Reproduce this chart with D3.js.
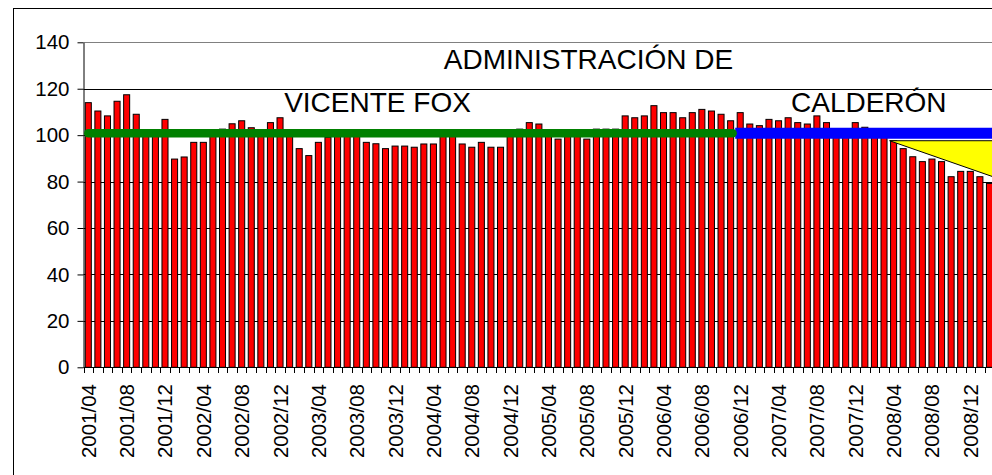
<!DOCTYPE html>
<html>
<head>
<meta charset="utf-8">
<script src="https://cdn.jsdelivr.net/npm/d3@7/dist/d3.min.js"></script>
<style>
  html, body { margin: 0; padding: 0; background: #fff; }
  svg { display: block; }
  text { font-family: "Liberation Sans", Arial, sans-serif; fill: #000; }
</style>
</head>
<body>
<svg id="chart" width="992" height="475"></svg>
<script>
// ---- data ----
const startYear = 2001, startMonth = 4, monthCount = 95;
const categories = [];
for (let i = 0; i < monthCount; i++) {
  const m = (startMonth - 1 + i) % 12 + 1;
  const yv = startYear + Math.floor((startMonth - 1 + i) / 12);
  categories.push(yv + "/" + String(m).padStart(2, "0"));
}
const values = [
  114.0, 110.4, 108.3, 114.6, 117.4, 109.0, 100.5, 100.5, 106.8, 89.7,
  90.6, 96.9, 96.9, 100.5, 102.6, 104.9, 106.2, 103.2, 101.0, 105.4,
  107.5, 101.0, 94.2, 91.2, 96.9, 99.1, 101.0, 101.0, 100.0, 96.9,
  96.3, 94.2, 95.3, 95.3, 94.8, 96.2, 96.2, 100.5, 100.5, 96.2,
  94.8, 96.9, 94.8, 94.8, 100.5, 102.6, 105.4, 104.8, 100.0, 98.3,
  100.5, 100.5, 98.3, 102.6, 102.6, 102.6, 108.3, 107.5, 108.3, 112.7,
  109.7, 109.7, 107.5, 109.7, 111.1, 110.4, 109.0, 106.2, 109.7, 104.8,
  104.1, 106.8, 106.2, 107.5, 105.4, 104.8, 108.3, 105.4, 101.0, 101.0,
  105.4, 103.4, 101.0, 100.0, 97.6, 94.2, 90.7, 88.6, 89.7, 88.6,
  82.1, 84.4, 84.4, 82.1, 79.2
];
const tickLabels = [
  "2001/04","2001/08","2001/12","2002/04","2002/08","2002/12","2003/04","2003/08",
  "2003/12","2004/04","2004/08","2004/12","2005/04","2005/08","2005/12","2006/04",
  "2006/08","2006/12","2007/04","2007/08","2007/12","2008/04","2008/08","2008/12"
];
const yTicks = [0, 20, 40, 60, 80, 100, 120, 140];
const foxAverage = 100.8;
const calderonAverage = 100.8;
const foxFirst = "2001/04", foxLast = "2006/11", calderonFirst = "2006/12";
const trendStartCat = "2008/04", trendStartValue = 97.6, trendEndValue = 81.9;
const titleLines = ["ADMINISTRACIÓN DE", "VICENTE FOX", "CALDERÓN"];

// ---- layout ----
const svg = d3.select("#chart");
const plotLeft = 83.5, step = 9.587;
const plotRight = plotLeft + step * categories.length;
const plotTop = 42.3, plotBottom = 367.3;

const x = d3.scaleBand().domain(categories).range([plotLeft, plotRight])
  .paddingInner(0.37).paddingOuter(0.185);
const y = d3.scaleLinear().domain([0, 140]).range([plotBottom, plotTop]);
const half = (x.step() - x.bandwidth()) / 2;
const cx = c => x(c) + x.bandwidth() / 2;

// outer border
svg.append("rect").attr("x", 13.5).attr("y", 8.5).attr("width", 1000).attr("height", 470)
  .attr("fill", "none").attr("stroke", "#000").attr("stroke-width", 1);

// gridlines
svg.append("g").selectAll("line").data(yTicks.filter(t => t > 0)).join("line")
  .attr("x1", plotLeft).attr("x2", plotRight + 10)
  .attr("y1", d => Math.round(y(d)) + 0.5).attr("y2", d => Math.round(y(d)) + 0.5)
  .attr("stroke", d => d === 140 ? "#808080" : "#000").attr("stroke-width", 1);

// bars
svg.append("g").selectAll("rect").data(values).join("rect")
  .attr("x", (d, i) => x(categories[i]))
  .attr("width", x.bandwidth())
  .attr("y", d => y(d))
  .attr("height", d => y(0) - y(d))
  .attr("fill", "#FF0000").attr("stroke", "#000").attr("stroke-width", 1);

// y axis
const yAxis = d3.axisLeft(y).tickValues(yTicks).tickSize(6).tickSizeOuter(0).tickPadding(8);
const gy = svg.append("g").attr("transform", `translate(${plotLeft},0)`).call(yAxis);
gy.select(".domain").attr("stroke", "#000");
gy.selectAll(".tick line").attr("stroke", "#000");
gy.selectAll(".tick text").attr("font-size", 20.5).attr("font-family", "Liberation Sans, Arial, sans-serif").attr("fill", "#000");

// x axis line
svg.append("line").attr("x1", plotLeft).attr("x2", plotRight + 10)
  .attr("y1", Math.round(y(0)) + 0.5).attr("y2", Math.round(y(0)) + 0.5)
  .attr("stroke", "#000");
// x ticks at category boundaries
const boundaries = categories.map(c => x(c) - half).concat([plotRight]);
svg.append("g").selectAll("line").data(boundaries).join("line")
  .attr("x1", d => Math.round(d) + 0.5).attr("x2", d => Math.round(d) + 0.5)
  .attr("y1", Math.round(y(0)) + 0.5).attr("y2", Math.round(y(0)) + 6)
  .attr("stroke", "#000");
// x labels
svg.append("g").selectAll("text").data(tickLabels).join("text")
  .attr("transform", d => `translate(${cx(d) + 7.5},384) rotate(-90)`)
  .attr("text-anchor", "end").attr("font-size", 20.5).text(d => d);

// trend triangle
const tx0 = x(trendStartCat) - 1;
const tri = [[tx0, y(trendStartValue)], [plotRight, y(trendStartValue)], [plotRight, y(trendEndValue)]];
svg.append("path").attr("d", d3.line()(tri) + "Z")
  .attr("fill", "#FFFF00").attr("stroke", "#000").attr("stroke-width", 1);

// average lines
svg.append("line").attr("x1", x(calderonFirst) - 2).attr("x2", plotRight + 20)
  .attr("y1", y(calderonAverage)).attr("y2", y(calderonAverage))
  .attr("stroke", "#0000FF").attr("stroke-width", 11).attr("stroke-linecap", "butt");
svg.append("line").attr("x1", cx(foxFirst)).attr("x2", cx(foxLast) + 2)
  .attr("y1", y(foxAverage)).attr("y2", y(foxAverage))
  .attr("stroke", "#008000").attr("stroke-width", 8.5).attr("stroke-linecap", "round");

// titles
svg.append("text").attr("x", 588.5).attr("y", 69.3).attr("text-anchor", "middle")
  .attr("font-size", 28).text(titleLines[0]);
svg.append("text").attr("x", 377.5).attr("y", 111.7).attr("text-anchor", "middle")
  .attr("font-size", 28).text(titleLines[1]);
svg.append("text").attr("x", 868.8).attr("y", 112.3).attr("text-anchor", "middle")
  .attr("font-size", 28).text(titleLines[2]);
</script>
</body>
</html>
